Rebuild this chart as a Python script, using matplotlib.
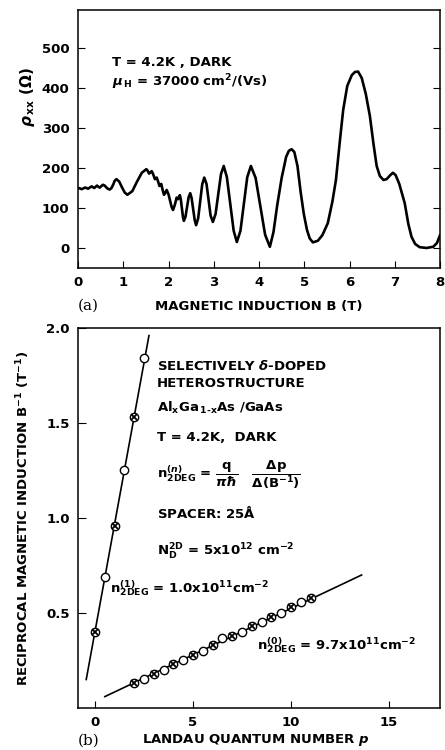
import matplotlib
matplotlib.use("Agg")
import matplotlib.pyplot as plt

plt.rcParams["font.family"] = ["DejaVu Sans"]
plt.rcParams["font.weight"] = "bold"
plt.rcParams["axes.labelweight"] = "bold"
plt.rcParams["mathtext.fontset"] = "custom"
plt.rcParams["mathtext.rm"] = "DejaVu Sans:bold"
plt.rcParams["mathtext.it"] = "DejaVu Sans:italic:bold"
plt.rcParams["mathtext.bf"] = "DejaVu Sans:bold"

# (a) rho_xx vs B
b_field = [0.00, 0.04, 0.08, 0.12, 0.15, 0.19, 0.22, 0.26, 0.30, 0.33, 0.36, 0.39, 0.42, 0.45,
           0.48, 0.52, 0.55, 0.59, 0.62, 0.66, 0.70, 0.74, 0.78, 0.81, 0.85, 0.91, 0.97, 1.03,
           1.09, 1.20, 1.30, 1.41, 1.51, 1.54, 1.57, 1.60, 1.63, 1.665, 1.70, 1.72, 1.74, 1.77,
           1.80, 1.82, 1.84, 1.87, 1.90, 1.93, 1.96, 2.00, 2.03, 2.07, 2.10, 2.14, 2.18, 2.21,
           2.25, 2.27, 2.295, 2.32, 2.34, 2.375, 2.41, 2.445, 2.48, 2.51, 2.545, 2.58, 2.61,
           2.655, 2.70, 2.745, 2.79, 2.84, 2.885, 2.93, 2.98, 3.04, 3.10, 3.16, 3.22, 3.29,
           3.365, 3.44, 3.51, 3.59, 3.665, 3.74, 3.82, 3.925, 4.03, 4.135, 4.24, 4.32, 4.40,
           4.50, 4.60, 4.66, 4.72, 4.78, 4.85, 4.92, 4.99, 5.06, 5.12, 5.19, 5.30, 5.40, 5.52,
           5.62, 5.70, 5.78, 5.86, 5.95, 6.05, 6.12, 6.19, 6.27, 6.36, 6.45, 6.53, 6.60, 6.67,
           6.75, 6.82, 6.90, 6.96, 7.02, 7.10, 7.22, 7.30, 7.37, 7.45, 7.55, 7.70, 7.85, 7.93, 8.00]
rho_xx = [150, 149, 147, 149, 151, 150, 148, 151, 154, 152, 150, 153, 156, 153,
          151, 155, 158, 156, 152, 148, 146, 150, 159, 168, 172, 166, 152, 139,
          133, 142, 165, 188, 197, 193, 186, 189, 192, 183, 172, 174, 176, 166,
          155, 158, 160, 145, 133, 138, 145, 134, 120, 102, 95, 108, 126, 122,
          132, 123, 100, 77, 68, 78, 102, 127, 137, 125, 97, 69, 57,
          74, 116, 159, 176, 160, 120, 81, 65, 85, 135, 185, 205, 177,
          110, 43, 15, 43, 110, 177, 205, 175, 104, 33, 3, 40, 105,
          175, 228, 243, 247, 240, 205, 140, 85, 45, 24, 14, 18, 32, 62,
          115, 170, 260, 345, 405, 432, 440, 441, 425, 385, 330, 260, 205, 180,
          170, 172, 182, 188, 182, 160, 112, 60, 28, 10, 2, 0, 3, 12, 32]

# (b) reciprocal field of the minima vs Landau number
p_low = [0, 0.5, 1, 1.5, 2, 2.5]
inv_b_low = [0.40, 0.69, 0.96, 1.25, 1.53, 1.84]
p_high = [2, 2.5, 3, 3.5, 4, 4.5, 5, 5.5, 6, 6.5, 7, 7.5, 8, 8.5, 9, 9.5, 10, 10.5, 11]
inv_b_high = [0.13, 0.15, 0.18, 0.20, 0.23, 0.25, 0.28, 0.30, 0.33, 0.37, 0.38, 0.40,
              0.43, 0.45, 0.48, 0.50, 0.53, 0.56, 0.58]
fit_low_p = [-0.45, 2.75]
fit_low_v = [0.15, 1.96]
fit_high_p = [0.5, 13.6]
fit_high_v = [0.06, 0.70]

fig = plt.figure(figsize=(4.45, 7.5), dpi=100)
fs = 9.5
txt = dict(fontsize=fs, color="black", va="center")

# ---- panel (a)
ax1 = fig.add_axes([0.1753, 0.6427, 0.8135, 0.344])
ax1.plot(b_field, rho_xx, color="black", lw=1.9, solid_joinstyle="round")
ax1.set_xlim(0, 8)
ax1.set_ylim(-50, 595)
ax1.set_xticks(range(0, 9))
ax1.set_yticks([0, 100, 200, 300, 400, 500])
ax1.tick_params(direction="in", length=5, right=True, labelsize=fs, pad=6)
ax1.text(0.094, 0.795, "T = 4.2K , DARK", transform=ax1.transAxes, **txt)
ax1.text(0.094, 0.72, r"$\mu_{\,\mathrm{H}}$ = 37000 cm$^2$/(Vs)", transform=ax1.transAxes, **txt)
fig.text(0.062, 0.87, r"$\rho_{\,\mathrm{xx}}\ (\Omega)$", rotation=90, ha="center", va="center", fontsize=11)
fig.text(0.582, 0.591, "MAGNETIC INDUCTION B (T)", ha="center", **txt)
fig.text(0.198, 0.593, "(a)", ha="center", va="center", family="DejaVu Serif", fontweight="normal", fontsize=11)

# ---- panel (b)
ax2 = fig.add_axes([0.1753, 0.056, 0.8135, 0.5067])
ax2.plot(fit_low_p, fit_low_v, color="black", lw=1.2)
ax2.plot(fit_high_p, fit_high_v, color="black", lw=1.2)
for ps, vs in [(p_low, inv_b_low), (p_high, inv_b_high)]:
    ax2.plot(ps, vs, "o", ms=6, mfc="white", mec="black", mew=1.0, zorder=3)
    ints = [(p, v) for p, v in zip(ps, vs) if float(p).is_integer()]
    ax2.plot([p for p, _ in ints], [v for _, v in ints], "x", ms=4.5, color="black", mew=1.3, zorder=4)
ax2.set_xlim(-0.87, 17.6)
ax2.set_ylim(0, 2.0)
ax2.set_xticks([0, 5, 10, 15])
ax2.set_yticks([0.5, 1.0, 1.5, 2.0])
ax2.set_yticklabels(["0.5", "1.0", "1.5", "2.0"])
ax2.tick_params(direction="in", length=5, labelsize=fs, pad=6)
ax2.tick_params(axis="y", length=6)

x0 = 0.218
ax2.text(x0, 0.90, r"SELECTIVELY $\delta$-DOPED", transform=ax2.transAxes, **txt)
ax2.text(x0, 0.855, "HETEROSTRUCTURE", transform=ax2.transAxes, **txt)
ax2.text(x0, 0.79, r"Al$_{\mathrm{x}}$Ga$_{\,\mathrm{1\text{-}x}}$As /GaAs", transform=ax2.transAxes, **txt)
ax2.text(x0, 0.713, "T = 4.2K,  DARK", transform=ax2.transAxes, **txt)
ax2.text(x0, 0.613, r"n$^{(n)}_{\mathrm{2DEG}}$ = $\dfrac{\mathrm{q}}{\pi\hbar}$   $\dfrac{\Delta\mathrm{p}}{\Delta(\mathrm{B}^{-1})}$",
         transform=ax2.transAxes, **txt)
ax2.text(x0, 0.513, r"SPACER: 25$\mathrm{\AA}$", transform=ax2.transAxes, **txt)
ax2.text(x0, 0.41, r"N$^{\mathrm{2D}}_{\mathrm{D}}$ = 5x10$^{12}$ cm$^{-2}$", transform=ax2.transAxes, **txt)
ax2.text(0.088, 0.316, r"n$^{(1)}_{\mathrm{2DEG}}$ = 1.0x10$^{11}$cm$^{-2}$", transform=ax2.transAxes, **txt)
ax2.text(0.494, 0.166, r"n$^{(0)}_{\mathrm{2DEG}}$ = 9.7x10$^{11}$cm$^{-2}$", transform=ax2.transAxes, **txt)

ax2.set_ylabel(r"RECIPROCAL MAGNETIC INDUCTION B$^{-1}$ (T$^{-1}$)", fontsize=fs, labelpad=10)
fig.text(0.575, 0.013, r"LANDAU QUANTUM NUMBER $p$", ha="center", **txt)
fig.text(0.2, 0.013, "(b)", ha="center", va="center", family="DejaVu Serif", fontweight="normal", fontsize=11)

for ax in (ax1, ax2):
    for s in ax.spines.values():
        s.set_linewidth(1.1)

fig.savefig("out.png", dpi=100)
